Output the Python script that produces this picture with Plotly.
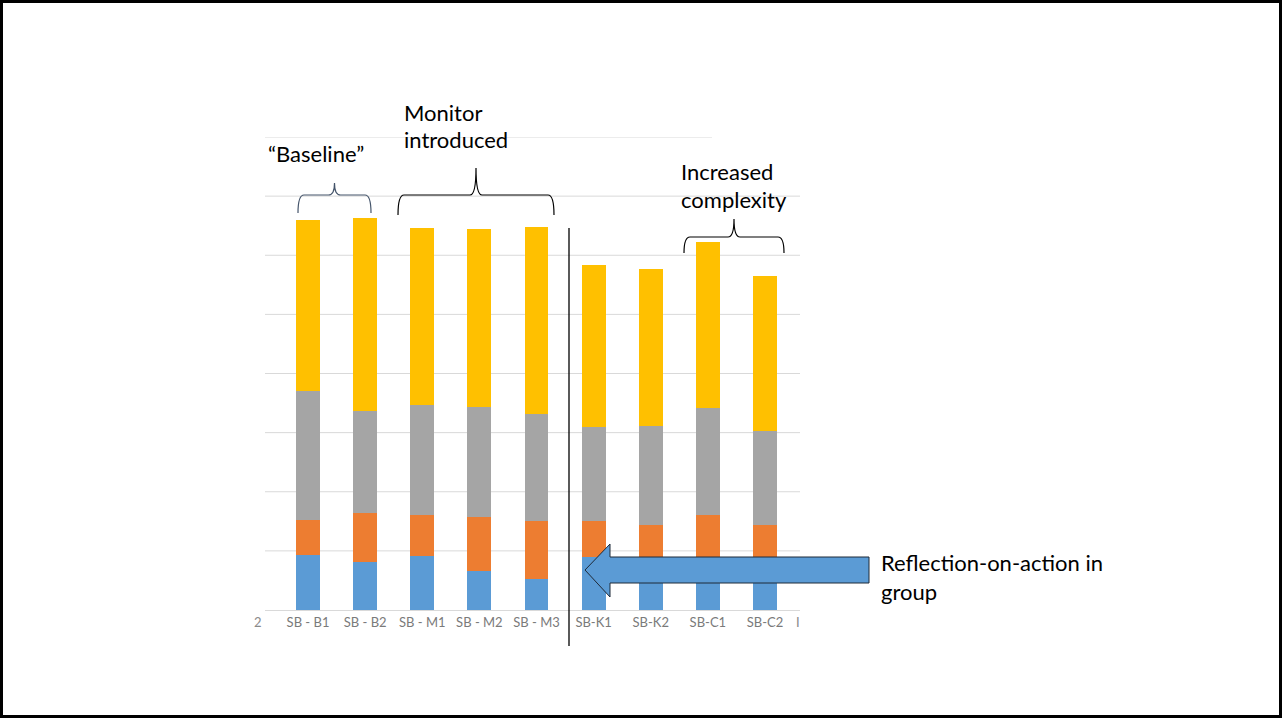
import plotly.graph_objects as go

# Sessions (x categories)
sessions = ["SB - B1", "SB - B2", "SB - M1", "SB - M2", "SB - M3",
            "SB-K1", "SB-K2", "SB-C1", "SB-C2"]

# Stacked components, bottom to top
blue_vals = [9.3, 8.1, 9.1, 6.6, 5.2, 9.0, 9.0, 9.0, 9.0]
orange_vals = [5.9, 8.3, 6.9, 9.1, 9.8, 6.1, 5.4, 7.1, 5.3]
gray_vals = [21.8, 17.3, 18.6, 18.6, 18.1, 15.8, 16.7, 18.1, 15.9]
yellow_vals = [29.0, 32.6, 30.0, 30.2, 31.7, 27.4, 26.5, 28.1, 26.3]

grid_levels = [10, 20, 30, 40, 50, 60, 70, 80]

W, H = 1282, 718
L, R, T, B = 265, 800, 137, 610   # plot area in pixels


def px(x):
    return (x - L) / (R - L)


def py(y):
    return (B - y) / (B - T)


series = [
    (blue_vals, "#5B9BD5"),
    (orange_vals, "#ED7D31"),
    (gray_vals, "#A5A5A5"),
    (yellow_vals, "#FFC000"),
]

fig = go.Figure()
for vals, col in series:
    fig.add_trace(go.Bar(x=sessions, y=vals, marker=dict(color=col, line=dict(width=0)),
                         showlegend=False, hoverinfo="skip"))

shapes = []
# horizontal gridlines (top one is shorter)
for g in grid_levels:
    x1 = px(712) if g == 80 else 1
    shapes.append(dict(type="line", xref="paper", yref="y", x0=0, x1=x1, y0=g, y1=g,
                       line=dict(color="#D9D9D9", width=1), layer="below"))

# slide frame
shapes.append(dict(type="rect", xref="paper", yref="paper",
                   x0=px(1.5), x1=px(1280.5), y0=py(716.5), y1=py(1.5),
                   line=dict(color="black", width=3)))

# separator line between phases
shapes.append(dict(type="line", xref="paper", yref="paper",
                   x0=px(569), x1=px(569), y0=py(228), y1=py(646),
                   line=dict(color="black", width=1.3)))


def brace(x0, x1, y_tip, y_top, y_peak, color):
    xm = (x0 + x1) / 2
    r = 6
    pts = (f"M {px(x0)},{py(y_tip)} Q {px(x0)},{py(y_top)} {px(x0 + r)},{py(y_top)} "
           f"L {px(xm - r)},{py(y_top)} Q {px(xm)},{py(y_top)} {px(xm)},{py(y_peak)} "
           f"Q {px(xm)},{py(y_top)} {px(xm + r)},{py(y_top)} "
           f"L {px(x1 - r)},{py(y_top)} Q {px(x1)},{py(y_top)} {px(x1)},{py(y_tip)}")
    return dict(type="path", xref="paper", yref="paper", path=pts,
                line=dict(color=color, width=1.2))


shapes.append(brace(298, 371, 213, 195, 183, "#44546A"))
shapes.append(brace(398, 554, 215, 195, 168, "black"))
shapes.append(brace(684, 784, 253, 237, 219, "black"))

# block arrow pointing left
arrow_pts = [(869, 557), (610, 557), (610, 544), (585, 570), (610, 597),
             (610, 583), (869, 583)]
path = "M " + " L ".join(f"{px(a)},{py(b)}" for a, b in arrow_pts) + " Z"
shapes.append(dict(type="path", xref="paper", yref="paper", path=path,
                   fillcolor="#5B9BD5", line=dict(color="#1F2A38", width=1)))

annotations = []


def label(text, x, y, anchor="left", size=22, color="black"):
    annotations.append(dict(text=text, xref="paper", yref="paper", x=px(x), y=py(y),
                            xanchor=anchor, yanchor="middle", showarrow=False,
                            font=dict(size=size, color=color, family="Lato")))


label("\u201cBaseline\u201d", 316, 154, anchor="center")
label("Monitor", 402, 112)
label("introduced", 402, 140)
label("Increased", 679, 171)
label("complexity", 679, 199)
label("Reflection-on-action in", 879, 562)
label("group", 879, 591)
# clipped neighbour tick labels at the edges
label("2", 258, 622, anchor="center", size=13, color="#8a8a8a")
label("I", 798, 622, anchor="center", size=13, color="#8a8a8a")

fig.update_layout(
    barmode="stack",
    bargap=0.58,
    width=W, height=H,
    margin=dict(l=L, r=W - R, t=T, b=H - B, pad=0),
    paper_bgcolor="white", plot_bgcolor="white",
    font=dict(family="Lato"),
    shapes=shapes,
    annotations=annotations,
    xaxis=dict(range=[-0.753, 8.613], showgrid=False, zeroline=False,
               showline=True, linecolor="#D9D9D9", linewidth=1, ticks="",
               tickfont=dict(size=13, color="#7a7a7a", family="Lato")),
    yaxis=dict(range=[0, 80], showgrid=False, zeroline=False, showticklabels=False,
               showline=False, ticks=""),
)

fig.write_html("out.html")
